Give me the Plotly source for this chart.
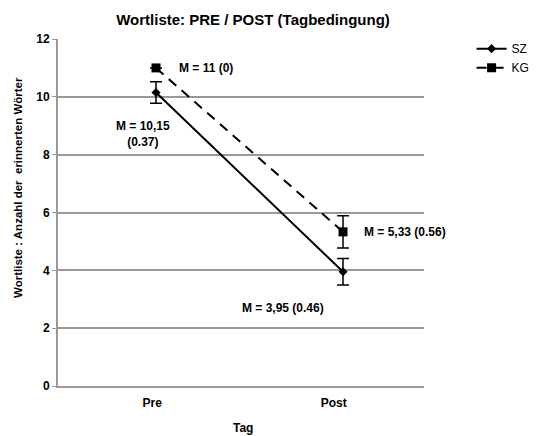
import plotly.graph_objects as go

# Data
days = ["Pre", "Post"]
x_pos = [0, 1]
sz_mean = [10.15, 3.95]
sz_err = [0.37, 0.46]
kg_mean = [11.0, 5.33]
kg_err = [0.0, 0.56]
sz_labels = ["M = 10,15<br>(0.37)", "M = 3,95 (0.46)"]
kg_labels = ["M = 11 (0)", "M = 5,33 (0.56)"]
y_ticks = [0, 2, 4, 6, 8, 10, 12]

font_family = "Liberation Sans, Arial, sans-serif"
grid_col = "#999999"

fig = go.Figure()

fig.add_trace(go.Scatter(
    x=x_pos, y=sz_mean, name="SZ", mode="lines+markers",
    line=dict(color="black", width=2),
    marker=dict(symbol="diamond", size=7, color="black"),
    error_y=dict(type="data", array=sz_err, visible=True,
                 color="black", thickness=1.5, width=6),
))
fig.add_trace(go.Scatter(
    x=x_pos, y=kg_mean, name="KG", mode="lines+markers",
    line=dict(color="black", width=2, dash="10px,7px"),
    marker=dict(symbol="square", size=9, color="black"),
    error_y=dict(type="data", array=kg_err, visible=True,
                 color="black", thickness=1.5, width=6),
))

bold = dict(family=font_family, size=12, color="black")
annotations = [
    dict(x=x_pos[0] + 0.11, y=kg_mean[0], text="<b>%s</b>" % kg_labels[0],
         xanchor="left", yanchor="middle"),
    dict(x=x_pos[0] - 0.07, y=8.7, text="<b>%s</b>" % sz_labels[0],
         xanchor="center", yanchor="middle"),
    dict(x=x_pos[1] + 0.10, y=kg_mean[1], text="<b>%s</b>" % kg_labels[1],
         xanchor="left", yanchor="middle"),
    dict(x=x_pos[1] - 0.32, y=2.7, text="<b>%s</b>" % sz_labels[1],
         xanchor="center", yanchor="middle"),
]
for a in annotations:
    a.update(xref="x", yref="y", showarrow=False, font=bold, align="center")

# Axis titles placed in paper coordinates
annotations.append(dict(
    xref="paper", yref="paper", x=-0.109, y=0.571, textangle=-90,
    text="<b>Wortliste : Anzahl der&nbsp; erinnerten Wörter</b>",
    showarrow=False, xanchor="center", yanchor="middle",
    font=dict(family=font_family, size=11.5, color="black"),
))
annotations.append(dict(
    xref="paper", yref="paper", x=0.505, y=-0.121,
    text="<b>Tag</b>", showarrow=False, xanchor="center", yanchor="middle",
    font=dict(family=font_family, size=12, color="black"),
))

fig.update_layout(
    width=538, height=436,
    margin=dict(l=58, r=114, t=39, b=50, autoexpand=False),
    paper_bgcolor="white", plot_bgcolor="white",
    font=dict(family=font_family, color="black"),
    title=dict(text="<b>Wortliste: PRE / POST (Tagbedingung)</b>",
               x=253 / 538, xanchor="center", y=1 - 20 / 436, yanchor="middle",
               font=dict(family=font_family, size=15, color="black")),
    showlegend=True,
    legend=dict(x=1.13, y=1.014, xanchor="left", yanchor="top",
                font=dict(family=font_family, size=12, color="black"),
                bgcolor="rgba(0,0,0,0)"),
    annotations=annotations,
)

fig.update_xaxes(
    range=[-0.524, 1.433],
    tickmode="array", tickvals=[-0.02, 0.95], ticktext=["<b>%s</b>" % d for d in days],
    tickfont=dict(family=font_family, size=12, color="black"),
    ticklabelstandoff=5,
    showgrid=False, zeroline=False,
    showline=True, linecolor=grid_col, linewidth=2,
    ticks="",
)
fig.update_yaxes(
    range=[0, 12], tickmode="array", tickvals=y_ticks,
    ticktext=["<b>%d</b>" % v for v in y_ticks],
    tickfont=dict(family=font_family, size=12, color="black"),
    showgrid=True, gridcolor=grid_col, gridwidth=1.5, zeroline=False,
    showline=True, linecolor=grid_col, linewidth=2,
    ticks="outside", ticklen=4, tickcolor=grid_col,
)

fig.write_html("out.html")
